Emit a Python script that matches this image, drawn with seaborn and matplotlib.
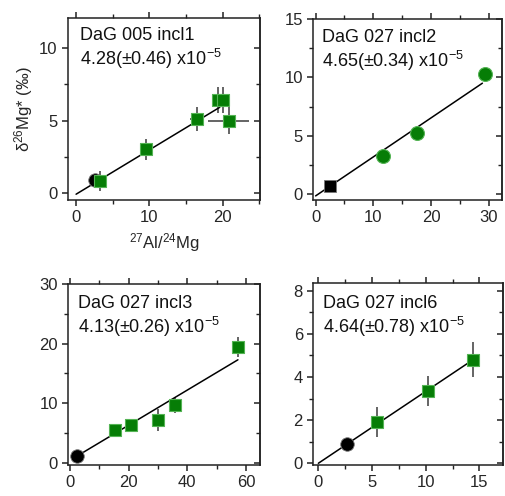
import numpy as np
import pandas as pd
import seaborn as sns
from matplotlib import pyplot as plt

sns.set_style("ticks")
plt.rcParams["font.family"] = ["Liberation Sans", "DejaVu Sans"]
plt.rcParams["mathtext.default"] = "regular"

# data -----------------------------------------------------------------------
names = ["DaG 005 incl1", "DaG 027 incl2", "DaG 027 incl3", "DaG 027 incl6"]
slope_txt = ["4.28(\u00b10.46)", "4.65(\u00b10.34)", "4.13(\u00b10.26)", "4.64(\u00b10.78)"]

# green points (inclusion)
p1_x = [3.2, 9.5, 16.5, 19.3, 20.1, 20.85]
p1_y = [0.8, 3.0, 5.1, 6.45, 6.45, 5.0]
p1_xe = [1.0, 0.8, 1.0, 0.6, 0.6, 2.8]
p1_ye = [0.7, 0.75, 0.85, 0.9, 0.9, 0.95]

p2_x = [11.7, 17.6, 29.3]
p2_y = [3.3, 5.25, 10.25]
p2_xe = [1.2, 0.9, 1.0]
p2_ye = [0.4, 0.4, 0.5]

p3_x = [15.4, 20.9, 30.0, 35.8, 57.2]
p3_y = [5.5, 6.3, 7.2, 9.7, 19.5]
p3_xe = [1.5, 1.5, 1.5, 1.5, 1.5]
p3_ye = [1.0, 1.0, 1.8, 1.3, 1.7]

p4_x = [5.5, 10.2, 14.4]
p4_y = [1.9, 3.35, 4.8]
p4_xe = [0.4, 0.4, 0.4]
p4_ye = [0.7, 0.7, 0.8]

# black reference points (x, y)
ref_x = [2.6, 2.5, 2.6, 2.7]
ref_y = [0.9, 0.7, 1.1, 0.9]

# isochron fits: slope, intercept, x-range
fit_slope = [0.307, 0.334, 0.296, 0.333]
fit_icpt = [-0.1, -0.15, 0.37, 0.0]
fit_x = [[0, 19.6], [0, 28.9], [2.6, 57.2], [0, 14.4]]

green_marker = ["s", "o", "s", "s"]
ref_marker = ["o", "s", "o", "o"]

xlims = [(-1.1, 25.1), (-0.4, 32.3), (-0.5, 64.7), (-0.47, 17.2)]
ylims = [(-0.5, 12.1), (-0.5, 15), (-0.4, 30), (-0.08, 8.34)]
xmaj = [10, 10, 20, 5]
ymaj = [5, 5, 10, 2]

pts = [(p1_x, p1_y, p1_xe, p1_ye), (p2_x, p2_y, p2_xe, p2_ye),
       (p3_x, p3_y, p3_xe, p3_ye), (p4_x, p4_y, p4_xe, p4_ye)]

# figure ---------------------------------------------------------------------
fig = plt.figure(figsize=(5.05, 4.96), dpi=100)
rects = [[0.1347, 0.5968, 0.3802, 0.3669], [0.6204, 0.5968, 0.3737, 0.3649],
         [0.1352, 0.0625, 0.3796, 0.3643], [0.6204, 0.0625, 0.3756, 0.3663]]
text_pos = [(0.06, 0.95), (0.045, 0.945), (0.052, 0.94), (0.05, 0.935)]

green = "#067d06"
edge = "#55b455"
err_c = "#3a3a3a"

for i in range(4):
    ax = fig.add_axes(rects[i])
    x, y, xe, ye = pts[i]
    df = pd.DataFrame({"x": x, "y": y})

    # fit line
    fx = np.array(fit_x[i])
    fline = pd.DataFrame({"x": fx, "y": fit_icpt[i] + fit_slope[i] * fx})
    sns.lineplot(data=fline, x="x", y="y", ax=ax, color="black", lw=1.1, zorder=2)

    # error bars
    ax.errorbar(x, y, xerr=xe, yerr=ye, fmt="none", ecolor=err_c, elinewidth=1.1,
                capsize=0, zorder=1)

    # reference point
    ref = pd.DataFrame({"x": [ref_x[i]], "y": [ref_y[i]]})
    sns.scatterplot(data=ref, x="x", y="y", ax=ax, marker=ref_marker[i],
                    s=95 if ref_marker[i] == "o" else 85, color="black",
                    edgecolor="#777777", linewidth=0.6, zorder=3)

    # inclusion points
    sns.scatterplot(data=df, x="x", y="y", ax=ax, marker=green_marker[i],
                    s=100 if green_marker[i] == "o" else 85, color=green,
                    edgecolor=edge, linewidth=0.8, zorder=4)

    ax.set_xlim(xlims[i])
    ax.set_ylim(ylims[i])
    ax.xaxis.set_major_locator(plt.MultipleLocator(xmaj[i]))
    ax.xaxis.set_minor_locator(plt.MultipleLocator(xmaj[i] / 2))
    ax.yaxis.set_major_locator(plt.MultipleLocator(ymaj[i]))
    ax.yaxis.set_minor_locator(plt.MultipleLocator(ymaj[i] / 2))

    for sp in ax.spines.values():
        sp.set_visible(True)
        sp.set_linewidth(1.1)
        sp.set_color("#222222")

    ax.tick_params(axis="x", which="both", direction="out", top=True, bottom=True,
                   labelsize=12, pad=3, color="#222222")
    ax.tick_params(axis="y", which="both", direction="out", left=True, right=False,
                   labelsize=12, pad=3, color="#222222")
    ax.tick_params(which="major", length=4.5, width=1.1)
    ax.tick_params(which="minor", length=3, width=1.0)

    # right side ticks pointing inward
    sec = ax.secondary_yaxis("right")
    sec.yaxis.set_major_locator(plt.MultipleLocator(ymaj[i]))
    sec.yaxis.set_minor_locator(plt.MultipleLocator(ymaj[i] / 2))
    sec.tick_params(which="both", direction="in", labelright=False, color="#222222")
    sec.tick_params(which="major", length=4.5, width=1.1)
    sec.tick_params(which="minor", length=3, width=1.0)
    sec.spines["right"].set_linewidth(1.1)

    ax.set_xlabel("")
    ax.set_ylabel("")
    ax.text(text_pos[i][0], text_pos[i][1],
            names[i] + "\n" + slope_txt[i] + " x10$^{-5}$",
            transform=ax.transAxes, ha="left", va="top", fontsize=13,
            linespacing=1.15, color="#111111")

    if i == 0:
        ax.set_xlabel("$^{27}$Al/$^{24}$Mg", fontsize=12, labelpad=4)
        ax.set_ylabel("\u03b4$^{26}$Mg* (\u2030)", fontsize=12, labelpad=3)

fig.savefig("out.png", dpi=100)
